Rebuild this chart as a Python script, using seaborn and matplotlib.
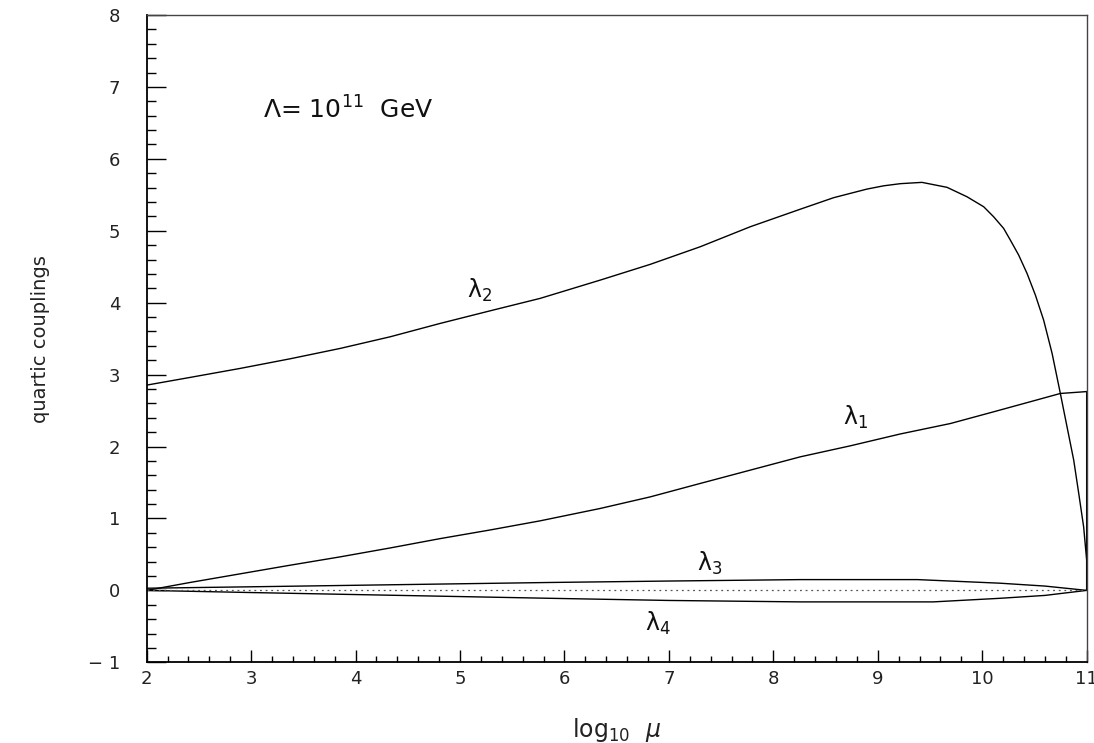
import numpy as np
import pandas as pd
import matplotlib
matplotlib.use("Agg")
import matplotlib.pyplot as plt
from matplotlib.ticker import MultipleLocator, FixedLocator, FixedFormatter
import seaborn as sns

# ---- data ----
lam2_x = [2.0, 2.415, 2.894, 3.373, 3.852, 4.331, 4.81, 5.288, 5.767, 6.342, 6.821, 7.3, 7.779, 8.258,
          8.577, 8.897, 9.056, 9.216, 9.423, 9.663, 9.854, 10.014, 10.109, 10.205, 10.269, 10.349,
          10.429, 10.509, 10.588, 10.669, 10.748, 10.812, 10.876, 10.924, 10.971, 11.0, 11.0]
lam2_y = [2.854, 2.961, 3.086, 3.22, 3.364, 3.526, 3.712, 3.887, 4.06, 4.314, 4.533, 4.778, 5.056, 5.30,
          5.46, 5.58, 5.625, 5.655, 5.673, 5.604, 5.473, 5.334, 5.195, 5.033, 4.871, 4.662,
          4.407, 4.106, 3.758, 3.295, 2.738, 2.274, 1.811, 1.348, 0.883, 0.42, 0.0]

lam1_x = [2.0, 2.415, 2.894, 3.373, 3.852, 4.331, 4.81, 5.288, 5.767, 6.342, 6.821, 7.3, 7.779, 8.258,
          8.737, 9.216, 9.695, 10.109, 10.493, 10.748, 10.971, 11.0, 11.0]
lam1_y = [0.0, 0.11, 0.23, 0.35, 0.466, 0.59, 0.72, 0.84, 0.967, 1.139, 1.30, 1.487, 1.672, 1.857,
          2.01, 2.175, 2.32, 2.483, 2.636, 2.738, 2.761, 2.765, 0.0]

lam3_x = [2.0, 3.0, 4.43, 5.86, 7.0, 8.26, 8.73, 9.38, 10.17, 10.6, 11.0]
lam3_y = [0.03, 0.05, 0.08, 0.11, 0.13, 0.15, 0.15, 0.15, 0.10, 0.06, 0.0]

lam4_x = [2.0, 3.0, 4.43, 5.86, 7.0, 8.26, 8.73, 9.53, 10.17, 10.6, 11.0]
lam4_y = [0.0, -0.03, -0.07, -0.11, -0.14, -0.16, -0.16, -0.16, -0.11, -0.07, 0.0]

zero_x = [2.0, 11.0]
zero_y = [0.0, 0.0]

x_ticks = [2, 3, 4, 5, 6, 7, 8, 9, 10, 11]
x_tick_labels = ["2", "3", "4", "5", "6", "7", "8", "9", "10", "11"]
y_ticks = [-1, 0, 1, 2, 3, 4, 5, 6, 7, 8]
y_tick_labels = ["\u2212 1", "0", "1", "2", "3", "4", "5", "6", "7", "8"]

curve_labels = ["\u03bb$_2$", "\u03bb$_1$", "\u03bb$_3$", "\u03bb$_4$"]
curve_label_pos = [(5.07, 4.17), (8.67, 2.40), (7.27, 0.38), (6.77, -0.46)]

annotation = "\u039b= 10$^{11}$  GeV"
xlabel = r"log$_{10}$  $\mu$"
ylabel = "quartic couplings"

# ---- figure ----
sns.set_style("white")
plt.rcParams["font.family"] = ["DejaVu Sans"]
plt.rcParams["mathtext.fontset"] = "dejavusans"

fig = plt.figure(figsize=(10.94, 7.43), dpi=100)
ax = fig.add_axes([0.1341, 0.1086, 0.9933 - 0.1341, 0.9798 - 0.1086])

lw = 1.0
for xs, ys in [(lam2_x, lam2_y), (lam1_x, lam1_y), (lam3_x, lam3_y), (lam4_x, lam4_y)]:
    df = pd.DataFrame({"x": xs, "y": ys})
    sns.lineplot(data=df, x="x", y="y", sort=False, color="black", lw=lw, ax=ax, estimator=None)

sns.lineplot(x=zero_x, y=zero_y, color="#555555", lw=0.9, ls=(0, (1.5, 3)), ax=ax, estimator=None)

ax.set_xlim(2, 11)
ax.set_ylim(-1, 8)

ax.xaxis.set_major_locator(FixedLocator(x_ticks))
ax.xaxis.set_major_formatter(FixedFormatter(x_tick_labels))
ax.xaxis.set_minor_locator(MultipleLocator(0.2))
ax.yaxis.set_major_locator(FixedLocator(y_ticks))
ax.yaxis.set_major_formatter(FixedFormatter(y_tick_labels))
ax.yaxis.set_minor_locator(MultipleLocator(0.2))

ax.tick_params(axis="y", which="major", direction="in", length=13.7, width=1.0, pad=19,
               labelsize=13, colors="black", labelcolor="#222222", left=True, right=False)
ax.tick_params(axis="y", which="minor", direction="in", length=6.5, width=1.0, left=True, right=False, color="black")
ax.tick_params(axis="x", which="major", direction="in", length=8.6, width=1.0, pad=5.5,
               labelsize=13, colors="black", labelcolor="#222222", bottom=True, top=False)
ax.tick_params(axis="x", which="minor", direction="in", length=4.3, width=1.0, bottom=True, top=False, color="black")

for side in ["left", "bottom"]:
    ax.spines[side].set_color("black")
    ax.spines[side].set_linewidth(1.3)
for side in ["top", "right"]:
    ax.spines[side].set_color("#444444")
    ax.spines[side].set_linewidth(1.0)

ax.set_xlabel(xlabel, fontsize=17, color="#222222")
ax.xaxis.set_label_coords(0.5, -0.083)
ax.set_ylabel(ylabel, fontsize=14, color="#222222")
ax.yaxis.set_label_coords(-0.103, 0.5)

for txt, (tx, ty) in zip(curve_labels, curve_label_pos):
    ax.text(tx, ty, txt, fontsize=17, ha="left", va="center", color="#111111")

ax.text(3.11, 6.68, annotation, fontsize=18, ha="left", va="center", color="#111111")

fig.savefig("out.png", dpi=100)
